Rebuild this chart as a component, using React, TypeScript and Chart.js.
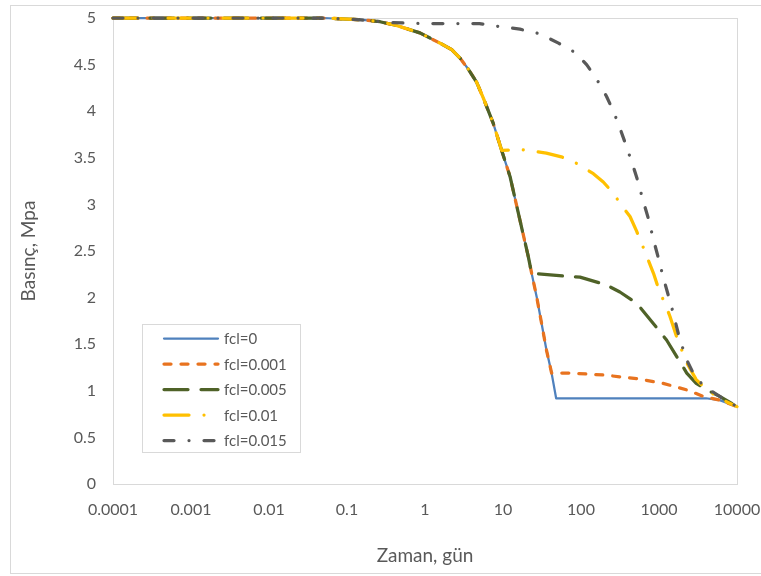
import React, { useEffect, useRef } from "react";
import { Chart, registerables } from "chart.js";

Chart.register(...registerables);

// ---- data ----
const seriesLabels = ["fcl=0", "fcl=0.001", "fcl=0.005", "fcl=0.01", "fcl=0.015"];

// shared early decline (all series until fcl=0.01 branches off)
const commonTime = [0.0001, 0.001, 0.01, 0.05, 0.16, 0.265, 0.43, 0.86, 1.56, 2.2, 2.81, 3.6, 4.6, 5.6, 7.5, 9.6];
const commonPressure = [5, 5, 5, 5, 4.98, 4.96, 4.92, 4.84, 4.73, 4.66, 4.57, 4.45, 4.31, 4.14, 3.87, 3.58];

// steep part shared by fcl=0, 0.001, 0.005
const steepTime = [12.3, 16.5, 21.1, 23.3];
const steepPressure = [3.3, 2.83, 2.44, 2.26];

// steep part shared by fcl=0, 0.001
const lowTime = [27, 31.3, 36, 42];
const lowPressure = [2.01, 1.72, 1.44, 1.19];

const timeFcl0 = [48, 1000, 4000, 6000, 10000];
const pressureFcl0 = [0.92, 0.92, 0.92, 0.9, 0.83];

const timeFcl001 = [72, 193, 518, 1130, 2270, 3700, 6000, 10000];
const pressureFcl001 = [1.19, 1.17, 1.13, 1.08, 1.01, 0.94, 0.9, 0.83];

const timeFcl005 = [44, 97, 213, 315, 518, 850, 1250, 1680, 2270, 3000, 4100, 6000, 10000];
const pressureFcl005 = [2.24, 2.22, 2.135, 2.06, 1.94, 1.72, 1.545, 1.37, 1.19, 1.08, 1.01, 0.94, 0.83];

const timeFcl01 = [16.5, 36, 56, 88, 144, 193, 260, 330, 425, 518, 620, 730, 850, 1000, 1200, 1380, 1680, 2270, 3000, 4100, 6600, 10000];
const pressureFcl01 = [3.59, 3.55, 3.51, 3.44, 3.33, 3.24, 3.12, 2.99, 2.87, 2.71, 2.55, 2.4, 2.26, 2.08, 1.93, 1.8, 1.58, 1.3, 1.12, 1.01, 0.9, 0.83];

const timeFcl015 = [0.0001, 0.001, 0.01, 0.05, 0.15, 0.36, 1, 5, 8.7, 16.5, 29.7, 51.5, 84, 118, 160, 212, 260, 315, 383, 470, 545, 620, 730, 850, 1000, 1130, 1450, 1850, 2270, 2900, 3900, 6000, 10000];
const pressureFcl015 = [5, 5, 5, 5, 4.98, 4.95, 4.94, 4.94, 4.91, 4.88, 4.83, 4.73, 4.63, 4.5, 4.34, 4.16, 4.0, 3.82, 3.62, 3.4, 3.23, 3.05, 2.85, 2.62, 2.4, 2.22, 1.9, 1.55, 1.33, 1.15, 1.04, 0.94, 0.83];

const xTickValues = [0.0001, 0.001, 0.01, 0.1, 1, 10, 100, 1000, 10000];
const xTickLabels = ["0.0001", "0.001", "0.01", "0.1", "1", "10", "100", "1000", "10000"];

const yTickStep = 0.5;
const yMin = 0;
const yMax = 5;

const xTitle = "Zaman, gün";
const yTitle = "Basınç, Mpa";

// ---- helpers ----
const zip = (t: number[], p: number[]) => t.map((x, i) => ({ x, y: p[i] }));

const FONT = "Lato, 'Open Sans', sans-serif";
const TEXT = "#595959";

const legendPlugin = {
  id: "insideLegend",
  beforeDraw(chart: any) {
    const ctx = chart.ctx;
    ctx.save();
    ctx.strokeStyle = "#d9d9d9";
    ctx.lineWidth = 1;
    ctx.strokeRect(10.5, 5.5, 770, 568);
    const a = chart.chartArea;
    ctx.strokeRect(Math.round(a.left) + 0.5, Math.round(a.top) + 0.5, Math.round(a.right - a.left), Math.round(a.bottom - a.top));
    ctx.restore();
  },
  afterDraw(chart: any) {
    const ctx = chart.ctx;
    ctx.save();
    ctx.fillStyle = "#ffffff";
    ctx.fillRect(142.5, 324.5, 158, 128);
    ctx.strokeStyle = "#d9d9d9";
    ctx.lineWidth = 1;
    ctx.strokeRect(142.5, 324.5, 158, 128);
    chart.data.datasets.forEach((ds: any, i: number) => {
      const y = 338.5 + i * 25.5;
      ctx.beginPath();
      ctx.strokeStyle = ds.borderColor;
      ctx.lineWidth = ds.borderWidth;
      ctx.lineCap = "round";
      ctx.setLineDash(ds.borderDash || []);
      ctx.moveTo(164, y);
      ctx.lineTo(218, y);
      ctx.stroke();
      ctx.setLineDash([]);
      ctx.fillStyle = TEXT;
      ctx.font = `15px ${FONT}`;
      ctx.textBaseline = "middle";
      ctx.textAlign = "left";
      ctx.fillText(ds.label, 224, y + 1);
    });
    ctx.restore();
  },
};

const zeroPad = (s: any) => {
  s.paddingLeft = 0;
  s.paddingRight = 0;
  s.paddingTop = 0;
  s.paddingBottom = 0;
};

export default function App() {
  const ref = useRef<HTMLCanvasElement | null>(null);
  useEffect(() => {
    if (!ref.current) return;
    const build = (t: number[][], p: number[][]) => zip(t.flat(), p.flat());
    const datasets = [
      {
        label: seriesLabels[0],
        data: build([commonTime, steepTime, lowTime, timeFcl0], [commonPressure, steepPressure, lowPressure, pressureFcl0]),
        borderColor: "#4F81BD",
        borderWidth: 2.25,
        borderDash: [],
        order: 5,
      },
      {
        label: seriesLabels[1],
        data: build([commonTime, steepTime, lowTime, timeFcl001], [commonPressure, steepPressure, lowPressure, pressureFcl001]),
        borderColor: "#E8731F",
        borderWidth: 3.25,
        borderDash: [7, 10],
        order: 4,
      },
      {
        label: seriesLabels[2],
        data: build([commonTime, steepTime, timeFcl005], [commonPressure, steepPressure, pressureFcl005]),
        borderColor: "#4F6228",
        borderWidth: 3.25,
        borderDash: [24, 13],
        order: 3,
      },
      {
        label: seriesLabels[3],
        data: build([commonTime, timeFcl01], [commonPressure, pressureFcl01]),
        borderColor: "#FFC000",
        borderWidth: 3.25,
        borderDash: [25, 15, 0.01, 15],
        order: 2,
      },
      {
        label: seriesLabels[4],
        data: zip(timeFcl015, pressureFcl015),
        borderColor: "#595959",
        borderWidth: 3.25,
        borderDash: [10, 15, 0.01, 15],
        order: 1,
      },
    ].map((d) => ({
      ...d,
      showLine: true,
      pointRadius: 0,
      pointHoverRadius: 0,
      fill: false,
      borderCapStyle: "round" as const,
      borderJoinStyle: "round" as const,
      tension: 0,
      clip: false as any,
    }));

    const chart = new Chart(ref.current, {
      type: "scatter",
      data: { datasets },
      options: {
        animation: false,
        responsive: false,
        maintainAspectRatio: false,
        layout: { padding: { left: 0, right: 24, top: 18, bottom: 0 } },
        plugins: { legend: { display: false }, tooltip: { enabled: false } },
        scales: {
          x: {
            type: "logarithmic",
            min: 0.0001,
            max: 10000,
            afterBuildTicks: (s: any) => {
              s.ticks = xTickValues.map((v) => ({ value: v }));
            },
            afterFit: (s: any) => {
              s.height = 92;
              zeroPad(s);
            },
            grid: { display: false, drawTicks: false },
            border: { display: false },
            ticks: {
              autoSkip: false,
              maxRotation: 0,
              padding: 16,
              color: TEXT,
              font: { family: FONT, size: 16 },
              callback: (_v: any, i: number) => xTickLabels[i],
            },
            title: {
              display: true,
              text: xTitle,
              color: TEXT,
              font: { family: FONT, size: 19 },
              padding: { top: 0, bottom: 9 },
            },
          },
          y: {
            type: "linear",
            min: yMin,
            max: yMax,
            afterFit: (s: any) => {
              s.width = 113;
              zeroPad(s);
            },
            grid: { display: false, drawTicks: false },
            border: { display: false },
            ticks: {
              stepSize: yTickStep,
              padding: 17,
              color: TEXT,
              font: { family: FONT, size: 16 },
              callback: (v: any) => String(Math.round(Number(v) * 10) / 10),
            },
            title: {
              display: true,
              text: yTitle,
              color: TEXT,
              font: { family: FONT, size: 19 },
              padding: { top: 17, bottom: 0 },
            },
          },
        },
      },
      plugins: [legendPlugin],
    });
    return () => chart.destroy();
  }, []);

  return (
    <div style={{ position: "absolute", left: 0, top: 0, width: 761, height: 576, background: "#fff" }}>
      <canvas ref={ref} width={761} height={576} style={{ width: 761, height: 576, display: "block" }} />
    </div>
  );
}
